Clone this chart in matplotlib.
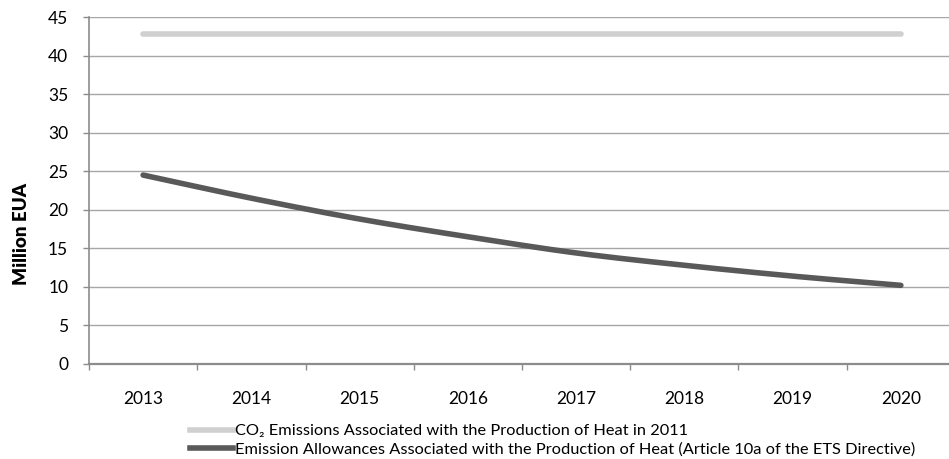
import numpy as np
import matplotlib
matplotlib.use("Agg")
import matplotlib.pyplot as plt
from matplotlib.lines import Line2D

plt.rcParams['font.family'] = ['Lato', 'DejaVu Sans']

years = ["2013", "2014", "2015", "2016", "2017", "2018", "2019", "2020"]
emissions_2011 = [42.8, 42.8, 42.8, 42.8, 42.8, 42.8, 42.8, 42.8]
allowances = [24.5, 21.5, 18.8, 16.5, 14.4, 12.8, 11.4, 10.2]
y_ticks = [0, 5, 10, 15, 20, 25, 30, 35, 40, 45]

label_emis = "CO\u2082 Emissions Associated with the Production of Heat in 2011"
label_allow = "Emission Allowances Associated with the Production of Heat (Article 10a of the ETS Directive)"


def smooth(xs, ys, n=20):
    """Catmull-Rom curve through the given points."""
    xs = np.asarray(xs, float)
    ys = np.asarray(ys, float)
    px = np.concatenate([[2 * xs[0] - xs[1]], xs, [2 * xs[-1] - xs[-2]]])
    py = np.concatenate([[2 * ys[0] - ys[1]], ys, [2 * ys[-1] - ys[-2]]])
    ox, oy = [], []
    t = np.linspace(0, 1, n, endpoint=False)
    for i in range(1, len(px) - 2):
        for arr, out in ((px, ox), (py, oy)):
            p0, p1, p2, p3 = arr[i - 1], arr[i], arr[i + 1], arr[i + 2]
            out.extend(0.5 * (2 * p1 + (-p0 + p2) * t
                              + (2 * p0 - 5 * p1 + 4 * p2 - p3) * t ** 2
                              + (-p0 + 3 * p1 - 3 * p2 + p3) * t ** 3))
    ox.append(xs[-1])
    oy.append(ys[-1])
    return np.array(ox), np.array(oy)


fig = plt.figure(figsize=(9.49, 4.59), dpi=100)
ax = fig.add_axes([89 / 949, 1 - 364 / 459, 866 / 949, 347 / 459])

x = np.arange(len(years))
ax.set_xlim(-0.5, len(years) - 0.5)
ax.set_ylim(0, 45)

grid_c = "#a6a6a6"
for yv in y_ticks[1:]:
    ax.axhline(yv, color=grid_c, lw=1.0, zorder=1)

ax.plot(x, emissions_2011, color="#d0d0d0", lw=4, solid_capstyle="round", zorder=3)
sx, sy = smooth(x, allowances)
ax.plot(sx, sy, color="#595959", lw=4, solid_capstyle="round", zorder=3)

for side in ("top", "right"):
    ax.spines[side].set_visible(False)
ax.spines["left"].set_color("#8c8c8c")
ax.spines["left"].set_linewidth(1.2)
ax.spines["bottom"].set_color("#8c8c8c")
ax.spines["bottom"].set_linewidth(1.6)

ax.set_yticks(y_ticks)
ax.set_yticklabels([str(v) for v in y_ticks], fontsize=12.5, color="#000000")
ax.tick_params(axis="y", length=4.5, width=1, color="#8c8c8c", pad=10.5)

ax.set_xticks(np.arange(-0.5, len(years) - 0.5, 1.0))
ax.set_xticklabels([])
ax.tick_params(axis="x", length=4.5, width=1, color="#8c8c8c")
for xi, yr in zip(x, years):
    ax.text(xi, -4.6, yr, ha="center", va="center", fontsize=12.5,
            clip_on=False)

fig.text(22 / 949, 1 - 234 / 459, "Million EUA", rotation=90, fontsize=13.5,
         fontweight="heavy", ha="center", va="center")

handles = [Line2D([], [], color="#d0d0d0", lw=4),
           Line2D([], [], color="#595959", lw=4)]
fig.legend(handles, [label_emis, label_allow], loc="upper left",
           bbox_to_anchor=(190 / 949, 1 - 424 / 459), frameon=False,
           fontsize=11.8, handlelength=2.6, handletextpad=0.15,
           labelspacing=0.25, borderpad=0, borderaxespad=0)

fig.savefig("out.png", dpi=100)
